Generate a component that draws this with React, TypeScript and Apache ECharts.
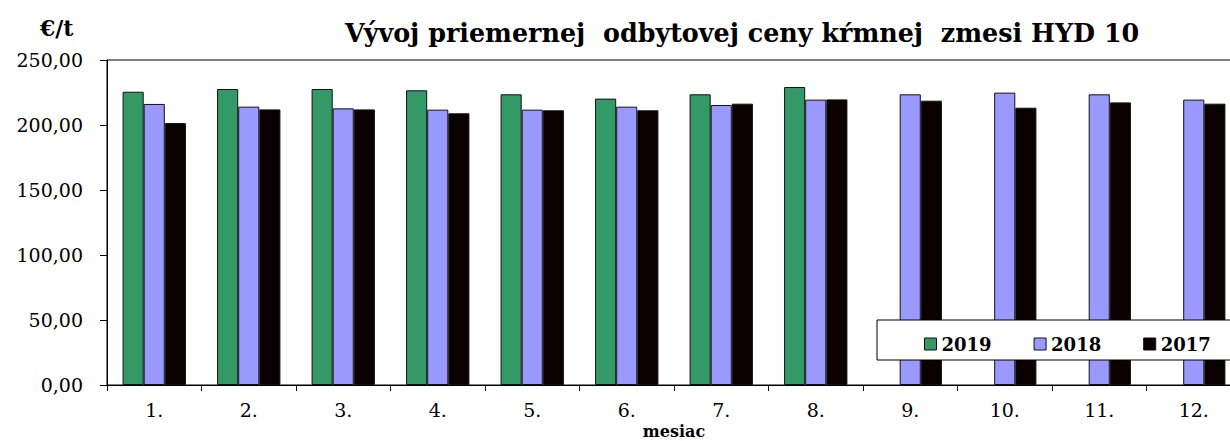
import React, { useEffect, useRef } from "react";
import * as echarts from "echarts";

const months = ["1.", "2.", "3.", "4.", "5.", "6.", "7.", "8.", "9.", "10.", "11.", "12."];
const y2019 = [225.6, 227.7, 227.7, 226.7, 223.6, 220.3, 223.6, 229.2, null, null, null, null];
const y2018 = [216.2, 214.1, 212.8, 211.8, 211.8, 214.1, 215.4, 219.5, 223.6, 224.9, 223.6, 219.5];
const y2017 = [201.5, 212.0, 212.0, 209.0, 211.3, 211.3, 216.4, 219.7, 218.7, 213.3, 217.4, 216.4];
const yTicks = { min: 0, max: 250, interval: 50 };

const FONT = "'DejaVu Serif', 'Liberation Serif', serif";

export default function App() {
  const ref = useRef<HTMLDivElement>(null);
  useEffect(() => {
    const chart = echarts.init(ref.current!, null, { renderer: "svg" });
    const bar = (name: string, data: (number | null)[], color: string) => ({
      name,
      type: "bar",
      data,
      barGap: "0%",
      barCategoryGap: "33%",
      itemStyle: { color, borderColor: "#111", borderWidth: 1 },
    });
    chart.setOption({
      animation: false,
      title: {
        text: "Vývoj priemernej  odbytovej ceny kŕmnej  zmesi HYD 10",
        left: 340,
        top: 15,
        textStyle: { fontFamily: FONT, fontSize: 25.4, fontWeight: "bold", color: "#000" },
      },
      graphic: [
        {
          type: "text",
          left: 40,
          top: 17,
          style: { text: "€/t", font: `bold 22px ${FONT}`, fill: "#000" },
        },
        {
          type: "rect",
          z: 50,
          shape: { x: 877, y: 320, width: 400, height: 40 },
          style: { fill: "#fff", stroke: "#000", lineWidth: 1 },
        },
      ],
      legend: {
        z: 60,
        left: 919,
        top: 330,
        itemWidth: 12,
        itemHeight: 12,
        itemGap: 42,
        icon: "rect",
        textStyle: { fontFamily: FONT, fontSize: 18, fontWeight: "bold", color: "#000" },
        data: [
          { name: "2019", itemStyle: { borderColor: "#111", borderWidth: 1 } },
          { name: "2018", itemStyle: { borderColor: "#111", borderWidth: 1 } },
          { name: "2017", itemStyle: { borderColor: "#111", borderWidth: 1 } },
        ],
      },
      grid: {
        left: 107,
        top: 60,
        right: -11,
        bottom: 56,
        outerBoundsMode: "none",
        containLabel: false,
        show: true,
        borderColor: "#000",
        borderWidth: 1,
        backgroundColor: "transparent",
      },
      xAxis: {
        type: "category",
        data: months,
        name: "mesiac",
        nameLocation: "middle",
        nameGap: 35,
        nameTextStyle: { fontFamily: FONT, fontSize: 16, fontWeight: "bold", color: "#000", lineHeight: 16 },
        axisLine: { lineStyle: { color: "#000", width: 1 } },
        axisTick: { show: true, length: 6, alignWithLabel: false, lineStyle: { color: "#000" } },
        axisLabel: { fontFamily: FONT, fontSize: 19, color: "#000", margin: 15 },
      },
      yAxis: {
        type: "value",
        min: yTicks.min,
        max: yTicks.max,
        interval: yTicks.interval,
        axisLine: { show: true, lineStyle: { color: "#000", width: 1 } },
        axisTick: { show: true, length: 7, lineStyle: { color: "#000" } },
        splitLine: { show: false },
        axisLabel: {
          fontFamily: FONT,
          fontSize: 19,
          color: "#000",
          margin: 24,
          formatter: (v: number) => v.toFixed(2).replace(".", ","),
        },
      },
      series: [bar("2019", y2019, "#339966"), bar("2018", y2018, "#9999FF"), bar("2017", y2017, "#0a0000")],
    });
    return () => chart.dispose();
  }, []);
  return (
    <div
      ref={ref}
      style={{ position: "absolute", left: 0, top: 0, width: 1230, height: 441, background: "#fff" }}
    />
  );
}
